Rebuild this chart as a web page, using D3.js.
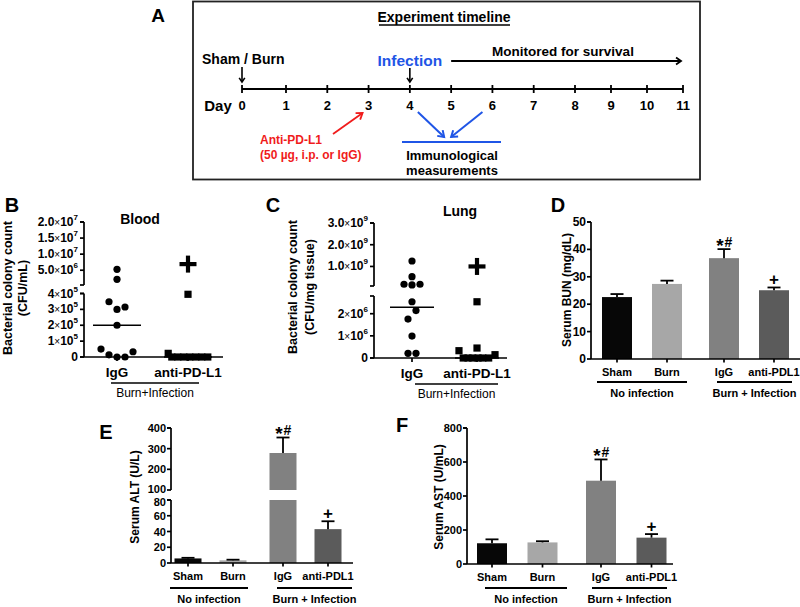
<!DOCTYPE html>
<html><head><meta charset="utf-8">
<script src="https://cdn.jsdelivr.net/npm/d3@7"></script>
<style>
body{margin:0;background:#fff}
svg{display:block}
text{font-family:"Liberation Sans",Arial,sans-serif;fill:#000}
</style></head>
<body><svg id="c" width="800" height="607"></svg>
<script>
// ---------------- DATA ----------------
const timelineDays = [0,1,2,3,4,5,6,7,8,9,10,11];

// Panel B: blood CFU/mL
const xCats = ["IgG","anti-PD-L1"];
const bloodIgG     = [5.28e6, 2.17e6, 3.48e5, 3.0e5, 3.15e5, 2.0e5, 0.5e5, 0.14e5, 0, 0, 0.33e5];
const bloodIgGSlot = [0, 0, -1, 0, 1, 0, -2, -1, 0, 1, 2];
const bloodAnti     = [3.95e5, 0.23e5, 0, 0, 0, 0, 0, 0, 0];
const bloodAntiSlot = [0, -3.3, -2.7, -1.7, -0.7, 0.3, 1.3, 2.3, 3.3];
const bloodMedian = [2.0e5, 0];
const bloodPlus = 6.9e6;
const bloodTicksLow  = [[0,"0"],[1e5,"1","5"],[2e5,"2","5"],[3e5,"3","5"],[4e5,"4","5"]];
const bloodTicksHigh = [[5e6,"5.0","6"],[1e7,"1.0","7"],[1.5e7,"1.5","7"],[2e7,"2.0","7"]];

// Panel C: lung CFU/mg tissue
const lungIgG     = [1.25e9, 0.53e9, 0.18e9, 0.15e9, 0.18e9, 2.54e6, 2.14e6, 1.76e6, 0.99e6, 0.21e6, 0.21e6];
const lungIgGSlot = [0, 0, -1, 0, 1, 0, 0.5, -0.5, 0, -0.5, 0.5];
const lungAnti     = [2.54e6, 0.45e6, 0.33e6, 0, 0, 0, 0, 0, 0, 0.15e6];
const lungAntiSlot = [0, 0, -3.4, -2.6, -1.7, -0.8, 0.2, 1.1, 2.2, 3.4];
const lungMedian = [2.29e6, 0];
const lungPlus = 1.0e9;
const lungTicksLow  = [[0,"0"],[1e6,"1","6"],[2e6,"2","6"]];
const lungTicksHigh = [[1e9,"1.0","9"],[2e9,"2.0","9"],[3e9,"3.0","9"]];

// Panels D-F: serum markers
const barCats = ["Sham","Burn","IgG","anti-PDL1"];
const barGroup = [0,0,1,1];
const groupLabels = ["No infection","Burn + Infection"];
const barColors = ["#070707","#a7a7a7","#818181","#5b5b5b"];
const barSig = ["","","*#","+"];
const bunMean = [22.6, 27.4, 36.8, 25.1];
const bunErr  = [1.1, 1.2, 3.3, 1.0];
const bunTicks = [0,10,20,30,40,50];
const altMean = [5.8, 3.4, 279, 43];
const altErr  = [0.8, 0.8, 75, 10];
const altTicksLow = [0,20,40,60,80];
const altTicksHigh = [100,200,300,400];
const astMean = [122, 127, 490, 155];
const astErr  = [23, 7, 125, 21];
const astTicks = [0,200,400,600,800];

// ---------------- DRAWING ----------------
const svg = d3.select("#c");
const AX = 1.7;

function txt(g, x, y, s, size, opts={}) {
  return g.append("text").attr("x", x).attr("y", y).text(s)
    .attr("font-size", size).attr("font-weight", opts.weight || "bold")
    .attr("text-anchor", opts.anchor || "middle")
    .style("fill", opts.fill || "#000");
}
function line(g, x1, y1, x2, y2, w=AX, c="#000") {
  return g.append("line").attr("x1",x1).attr("y1",y1).attr("x2",x2).attr("y2",y2)
    .attr("stroke", c).attr("stroke-width", w);
}
function arrow(g, x1, y1, x2, y2, c="#000", w=1.8, head=6) {
  line(g, x1, y1, x2, y2, w, c);
  const a = Math.atan2(y2-y1, x2-x1);
  const p = (ang) => [x2 - head*Math.cos(a+ang), y2 - head*Math.sin(a+ang)];
  const p1 = p(0.6), p2 = p(-0.6);
  g.append("path").attr("d", `M${p1[0]},${p1[1]}L${x2},${y2}L${p2[0]},${p2[1]}`)
    .attr("fill","none").attr("stroke",c).attr("stroke-width",w);
}

// ---- Panel A: timeline ----
(function(){
  const g = svg.append("g");
  txt(g, 158, 22, "A", 19);
  g.append("rect").attr("x",193).attr("y",1.5).attr("width",507).attr("height",178)
    .attr("fill","none").attr("stroke","#222").attr("stroke-width",1.8);
  txt(g, 444, 22, "Experiment timeline", 14);
  line(g, 379, 25, 510, 25, 1.3);
  const tx = d3.scaleLinear().domain([0,1,8,11]).range([242,286,575,683]);
  const ay = 89;
  line(g, tx(0), ay, tx(11), ay, 1.8);
  timelineDays.forEach(d => {
    line(g, tx(d), ay-4, tx(d), ay+4, 1.8);
    txt(g, tx(d), 110, String(d), 13);
  });
  txt(g, 218, 111, "Day", 15);
  txt(g, 202, 64, "Sham / Burn", 14, {anchor:"start"});
  arrow(g, tx(0), 67, tx(0), 82, "#000", 1.6, 5);
  txt(g, tx(4), 66, "Infection", 15.5, {fill:"#1f55e6"});
  arrow(g, tx(4), 68, tx(4), 82, "#000", 1.6, 5);
  txt(g, 563, 56, "Monitored for survival", 13.5);
  arrow(g, tx(5), 61, tx(11)-2, 61, "#000", 1.8, 6);
  txt(g, 260, 144, "Anti-PD-L1", 12, {anchor:"start", fill:"#f01c1c"});
  txt(g, 260, 159, "(50 µg, i.p. or IgG)", 12, {anchor:"start", fill:"#f01c1c"});
  arrow(g, 333, 134, tx(3)-6, 113, "#f01c1c", 1.8, 7);
  arrow(g, tx(4)+8, 112, tx(5)-7, 137, "#1f55e6", 2, 7);
  arrow(g, tx(6)-10, 112, tx(5), 137, "#1f55e6", 2, 7);
  line(g, 402, 142, 501, 142, 2.2, "#1f55e6");
  txt(g, 452, 160, "Immunological", 13);
  txt(g, 452, 175, "measurements", 13);
})();

// helpers for scatter panels
function supLabel(g, x, y, t) {
  const el = g.append("text").attr("x", x).attr("y", y).attr("text-anchor","end")
    .attr("font-size", 12).attr("font-weight","bold");
  if (t[2] === undefined) { el.text(t[1]); return; }
  el.append("tspan").text(t[1]);
  el.append("tspan").text("×").attr("font-weight","normal").attr("font-size",10);
  el.append("tspan").text("10");
  el.append("tspan").text(t[2]).attr("font-size",8).attr("dy",-6);
}
function vAxisSeg(g, x, scale, ticks) {
  const r = scale.range();
  line(g, x, r[0], x, r[1]);
  line(g, x-4, r[0], x, r[0]);
  line(g, x-4, r[1], x, r[1]);
  ticks.forEach(t => {
    const y = scale(t[0]);
    line(g, x-4, y, x, y);
    supLabel(g, x-6, y+4, t);
  });
}
function scatterPanel(o) {
  const g = svg.append("g");
  const yv = v => v <= o.lowMax ? o.low(v) : o.high(v);
  txt(g, o.letter[1], o.letter[2], o.letter[0], 20);
  txt(g, o.titleX, o.titleY, o.title, 14);
  vAxisSeg(g, o.ax, o.high, o.ticksHigh);
  vAxisSeg(g, o.ax, o.low, o.ticksLow);
  const y0 = o.low(0);
  line(g, o.ax, y0, o.axEnd, y0);
  xCats.forEach(c => {
    line(g, o.x(c), y0, o.x(c), y0+4);
    txt(g, o.x(c), y0+20, c, 13.5);
  });
  line(g, o.lineX[0], y0+26, o.lineX[1], y0+26, 1.6);
  txt(g, (o.lineX[0]+o.lineX[1])/2, y0+40, "Burn+Infection", 12, {weight:"normal"});
  const yl = g.append("g").attr("transform", `translate(${o.ylabX},${o.ylabY}) rotate(-90)`);
  yl.append("text").attr("text-anchor","middle").attr("dominant-baseline","central")
    .attr("font-size",12.5).attr("font-weight","bold").text("Bacterial colony count");
  yl.append("text").attr("y", o.ylabGap).attr("text-anchor","middle").attr("dominant-baseline","central")
    .attr("font-size",12.5).attr("font-weight","bold").text(o.unit);
  o.median.forEach((m, i) => {
    const cx = o.x(xCats[i]);
    line(g, cx - o.medHalf, yv(m), cx + o.medHalf, yv(m), 1.6);
  });
  g.selectAll(null).data(o.igg).join("circle")
    .attr("cx", (d,i) => o.x(xCats[0]) + o.iggSlot[i]*o.slotW)
    .attr("cy", d => yv(d)).attr("r", 3.6).attr("fill","#000");
  g.selectAll(null).data(o.anti).join("rect")
    .attr("x", (d,i) => o.x(xCats[1]) + o.antiSlot[i]*o.slotA - 3.6)
    .attr("y", d => yv(d) - 3.6).attr("width", 7.2).attr("height", 7.2).attr("fill","#000");
  const px = o.x(xCats[1]), py = yv(o.plus);
  line(g, px-8.5, py, px+8.5, py, 4.2);
  line(g, px, py-8.5, px, py+8.5, 4.2);
}

scatterPanel({
  letter:["B",12,212], title:"Blood", titleX:140, titleY:224,
  ax:84, axEnd:223, lineX:[111,199],
  x: d3.scalePoint().domain(xCats).range([117,188]),
  low: d3.scaleLinear().domain([0,4e5]).range([357,293.5]),
  high: d3.scaleLinear().domain([4e5,2e7]).range([285,222]),
  lowMax: 4e5, ticksLow: bloodTicksLow, ticksHigh: bloodTicksHigh,
  ylabX:8, ylabY:288, ylabGap:14.5, unit:"(CFU/mL)",
  median: bloodMedian, medHalf:24, igg: bloodIgG, iggSlot: bloodIgGSlot, slotW:8,
  anti: bloodAnti, antiSlot: bloodAntiSlot, slotA:6, plus: bloodPlus
});
scatterPanel({
  letter:["C",273,212], title:"Lung", titleX:460, titleY:216,
  ax:374, axEnd:507, lineX:[415,498],
  x: d3.scalePoint().domain(xCats).range([412,477]),
  low: d3.scaleLinear().domain([0,2.8e6]).range([358,296]),
  high: d3.scaleLinear().domain([1e8,3e9]).range([286,223]),
  lowMax: 2.8e6, ticksLow: lungTicksLow, ticksHigh: lungTicksHigh,
  ylabX:293, ylabY:287, ylabGap:17, unit:"(CFU/mg tissue)",
  median: lungMedian, medHalf:22, igg: lungIgG, iggSlot: lungIgGSlot, slotW:8,
  anti: lungAnti, antiSlot: lungAntiSlot, slotA:5.3, plus: lungPlus
});

// ---- bar panels ----
function barPanel(o) {
  const g = svg.append("g");
  const x = i => o.x(barCats[i]) + barGroup[i]*o.gap;
  const yv = v => (o.high && v > o.lowMax) ? o.high(v) : o.low(Math.min(v, o.lowMax || Infinity));
  txt(g, o.letter[1], o.letter[2], o.letter[0], 20);
  const segs = o.high ? [[o.high, o.ticksHigh, 3],[o.low, o.ticksLow, 5.5]] : [[o.low, o.ticksLow, 4]];
  segs.forEach(([s, ticks, endOff]) => {
    const r = s.range();
    line(g, o.ax, r[0], o.ax, r[1]);
    line(g, o.ax-4, r[1], o.ax, r[1]);
    const d = s.domain();
    ticks.forEach(t => {
      line(g, o.ax-4, s(t), o.ax, s(t));
      const off = (o.high && (t === d[0] && t !== 0 || t === d[1] && s === o.low)) ? endOff : 4;
      txt(g, o.ax-5, s(t)+off, String(t), o.tickSize, {anchor:"end"});
    });
  });
  const y0 = o.low(0);
  o.mean.forEach((m, i) => {
    const cx = x(i);
    if (o.high && m > o.lowMax) {
      g.append("rect").attr("x", cx-o.bw/2).attr("y", o.low(o.lowMax)).attr("width", o.bw)
        .attr("height", y0 - o.low(o.lowMax)).attr("fill", barColors[i]);
      g.append("rect").attr("x", cx-o.bw/2).attr("y", o.high(m)).attr("width", o.bw)
        .attr("height", o.high(o.highMin) - o.high(m)).attr("fill", barColors[i]);
    } else {
      g.append("rect").attr("x", cx-o.bw/2).attr("y", o.low(m)).attr("width", o.bw)
        .attr("height", y0 - o.low(m)).attr("fill", barColors[i]);
    }
    const yt = yv(m + o.err[i]);
    line(g, cx, yv(m), cx, yt, 1.8);
    line(g, cx-6.5, yt, cx+6.5, yt, 1.8);
    const cy = yt - 8;
    if (barSig[i] === "*#") {
      txt(g, cx-4, cy+10.5, "*", 19);
      txt(g, cx+4.5, cy+5.5, "#", 14);
    } else if (barSig[i] === "+") {
      txt(g, cx, cy+5.5, "+", 17);
    }
  });
  line(g, o.ax, y0, o.axEnd, y0);
  barCats.forEach((c, i) => {
    line(g, x(i), y0, x(i), y0+3.5);
    txt(g, x(i), y0+17, c, 11);
  });
  groupLabels.forEach((gl, k) => {
    line(g, o.groupX[k][0], y0+o.gLineDy, o.groupX[k][1], y0+o.gLineDy, 1.8);
    txt(g, (o.groupX[k][0]+o.groupX[k][1])/2, y0+o.gLineDy+15, gl, 11);
  });
  g.append("text").attr("transform", `translate(${o.ylabX},${o.ylabY}) rotate(-90)`)
    .attr("text-anchor","middle").attr("dominant-baseline","central")
    .attr("font-size", o.ylabSize).attr("font-weight","bold").text(o.ylab);
}

barPanel({
  letter:["D",558,212], ax:591, axEnd:800, bw:30, gap:7, tickSize:12,
  x: d3.scalePoint().domain(barCats).range([617,767]),
  low: d3.scaleLinear().domain([0,50]).range([359,222]), ticksLow: bunTicks,
  mean: bunMean, err: bunErr, groupX:[[597,687],[717,792]], gLineDy:23,
  ylabX:567, ylabY:290, ylab:"Serum BUN (mg/dL)", ylabSize:12
});
barPanel({
  letter:["E",106,439], ax:171, axEnd:353, bw:27, gap:5, tickSize:11,
  x: d3.scalePoint().domain(barCats).range([188,323]),
  low: d3.scaleLinear().domain([0,80]).range([563,500]), ticksLow: altTicksLow, lowMax:80,
  high: d3.scaleLinear().domain([100,400]).range([490,428]), ticksHigh: altTicksHigh, highMin:100,
  mean: altMean, err: altErr, groupX:[[170,248],[277,352]], gLineDy:25,
  ylabX:135, ylabY:497, ylab:"Serum ALT (U/L)", ylabSize:12
});
barPanel({
  letter:["F",402,432], ax:467, axEnd:673, bw:30, gap:8, tickSize:11,
  x: d3.scalePoint().domain(barCats).range([492,643.5]),
  low: d3.scaleLinear().domain([0,800]).range([564,428]), ticksLow: astTicks,
  mean: astMean, err: astErr, groupX:[[485,567],[592,667]], gLineDy:24,
  ylabX:439, ylabY:497, ylab:"Serum AST (U/mL)", ylabSize:12
});
</script></body></html>
